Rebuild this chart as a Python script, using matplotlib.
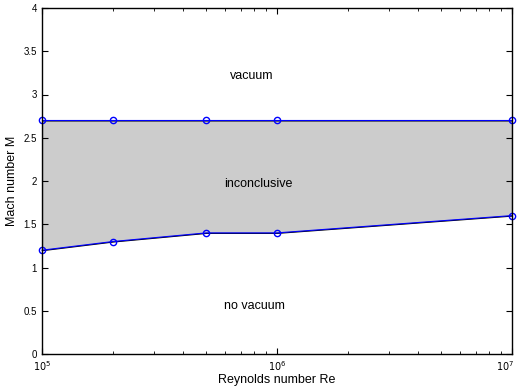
import matplotlib
matplotlib.use("Agg")
import matplotlib.pyplot as plt
import matplotlib.transforms as mtransforms

plt.rcParams['font.family'] = ['Liberation Sans', 'DejaVu Sans']

Re = [1e5, 2e5, 5e5, 1e6, 1e7]
M_upper = [2.7, 2.7, 2.7, 2.7, 2.7]
M_lower = [1.2, 1.3, 1.4, 1.4, 1.6]

fig = plt.figure(figsize=(5.18, 3.87), dpi=100)
ax = fig.add_axes([42 / 518, 1 - 354 / 387, 470 / 518, 346 / 387])

ax.fill_between(Re, M_lower, M_upper, facecolor='#cccccc', edgecolor='black', linewidth=0.8)
ax.plot(Re, M_upper, color='#0000ff', linewidth=0.8, marker='o', markersize=4.5,
        markerfacecolor='none', markeredgecolor='#0000ff', clip_on=False)
ax.plot(Re, M_lower, color='#0000ff', linewidth=0.8, marker='o', markersize=4.5,
        markerfacecolor='none', markeredgecolor='#0000ff', clip_on=False)

ax.text(7.8e5, 3.21, 'vacuum', ha='center', va='center', fontsize=9)
ax.text(8.3e5, 1.97, 'inconclusive', ha='center', va='center', fontsize=9)
ax.text(8.0e5, 0.56, 'no vacuum', ha='center', va='center', fontsize=9)

ax.set_xscale('log')
ax.set_xlim(1e5, 1e7)
ax.set_ylim(0, 4)
ax.set_xticks([1e5, 1e6, 1e7], labels=['$10^5$', '$10^6$', '$10^7$'])
ax.set_yticks([0, 0.5, 1, 1.5, 2, 2.5, 3, 3.5, 4])
ax.set_yticklabels(['0', '0.5', '1', '1.5', '2', '2.5', '3', '3.5', '4'])
ax.tick_params(which='both', direction='in', top=True, right=True, labelsize=7)
ax.tick_params(which='major', length=4)
ax.tick_params(which='minor', length=2)
for s in ax.spines.values():
    s.set_linewidth(1.0)

ax.set_xlabel('Reynolds number Re', fontsize=9, labelpad=1)
ax.set_ylabel('Mach number M', fontsize=9, labelpad=4)

last = ax.xaxis.get_major_ticks()[-1].label1
last.set_transform(last.get_transform() + mtransforms.ScaledTranslation(-5 / 72, 0, fig.dpi_scale_trans))

fig.savefig('out.png', dpi=100)
